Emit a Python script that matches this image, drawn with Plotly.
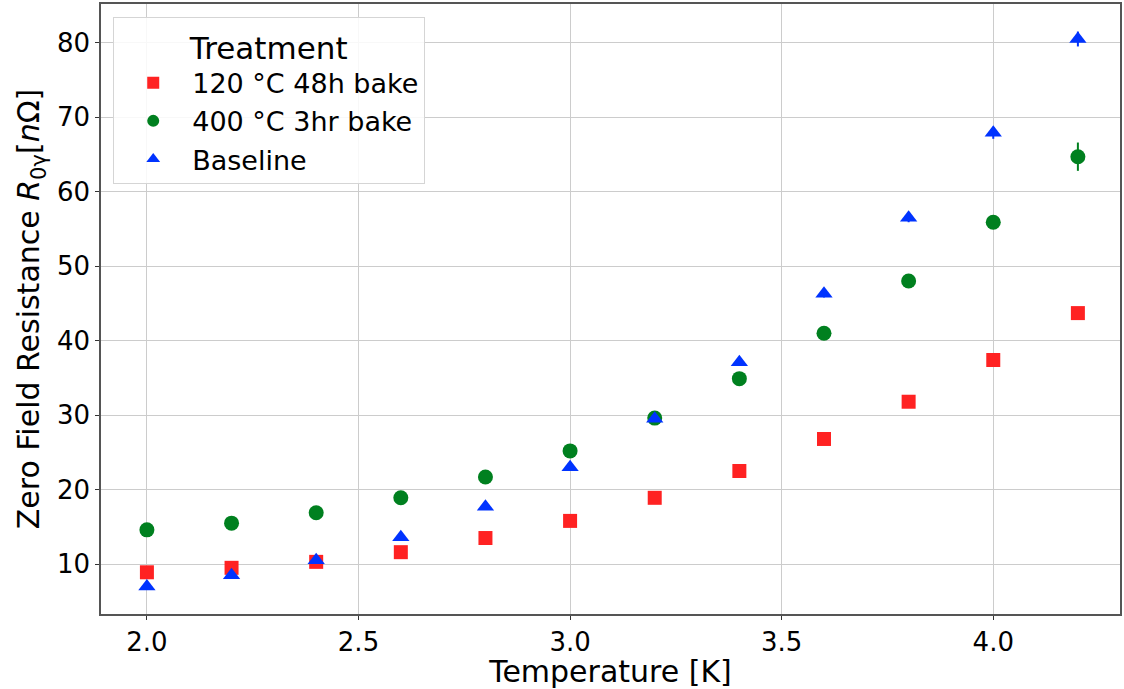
import plotly.graph_objects as go

temperature = [2.0, 2.2, 2.4, 2.6, 2.8, 3.0, 3.2, 3.4, 3.6, 3.8, 4.0, 4.2]

r_120c_48h = [8.9, 9.5, 10.3, 11.6, 13.5, 15.8, 18.9, 22.5, 26.8, 31.8, 37.4, 43.7]
r_400c_3h = [14.6, 15.5, 16.9, 18.9, 21.7, 25.2, 29.6, 34.9, 41.0, 48.0, 55.9, 64.7]
r_baseline = [7.0, 8.5, 10.5, 13.6, 17.7, 23.0, 29.5, 37.1, 46.3, 56.5, 67.9, 80.5]

err_120c_48h = [0.2, 0.2, 0.2, 0.2, 0.2, 0.2, 0.2, 0.2, 0.3, 0.3, 0.4, 0.5]
err_400c_3h = [0.3, 0.3, 0.3, 0.3, 0.3, 0.3, 0.4, 0.4, 0.5, 0.6, 0.8, 1.9]
err_baseline = [0.2, 0.2, 0.2, 0.2, 0.3, 0.3, 0.3, 0.4, 0.5, 0.6, 0.8, 1.0]

series = [
    ("120 °C 48h bake", r_120c_48h, err_120c_48h, "#ff2222", "square", 14),
    ("400 °C 3hr bake", r_400c_3h, err_400c_3h, "#00801f", "circle", 15),
    ("Baseline", r_baseline, err_baseline, "#0033ff", "triangle-up", 15),
]

fig = go.Figure()
for name, vals, errs, color, symbol, size in series:
    fig.add_trace(go.Scatter(
        x=temperature, y=vals, name=name, mode="markers",
        marker=dict(symbol=symbol, size=size, color=color, line=dict(width=0)),
        error_y=dict(type="data", array=errs, color=color, thickness=2, width=0),
    ))

font = "DejaVu Sans, Verdana, sans-serif"
axis_common = dict(
    showline=True, linecolor="#555555", linewidth=1.5, mirror=True,
    showgrid=True, gridcolor="#cccccc", gridwidth=1,
    ticks="outside", ticklen=4, tickcolor="#333333",
    tickfont=dict(size=26, color="black", family=font),
    zeroline=False,
)

fig.update_layout(
    width=1124, height=689,
    margin=dict(l=101, r=2, t=4, b=75),
    paper_bgcolor="white", plot_bgcolor="white",
    font=dict(family=font, color="black"),
    xaxis=dict(
        range=[1.8915, 4.2995], tickvals=[2.0, 2.5, 3.0, 3.5, 4.0],
        ticktext=["2.0", "2.5", "3.0", "3.5", "4.0"],
        title=dict(text="Temperature [K]", font=dict(size=30), standoff=0),
        **axis_common,
    ),
    yaxis=dict(
        range=[3.3, 85.2], tickvals=[10, 20, 30, 40, 50, 60, 70, 80],
        title=dict(text="Zero Field Resistance <i>R</i><sub>0γ</sub>[<i>n</i>Ω]",
                   font=dict(size=30), standoff=8),
        **axis_common,
    ),
    legend=dict(
        x=0.012, y=0.978, xanchor="left", yanchor="top",
        bgcolor="rgba(255,255,255,0.85)", bordercolor="#d5d5d5", borderwidth=1,
        font=dict(size=27, family=font),
        title=dict(text="Treatment", font=dict(size=31), side="top center"),
        itemsizing="constant", itemwidth=68,
    ),
    showlegend=True,
)

fig.write_html("out.html")
